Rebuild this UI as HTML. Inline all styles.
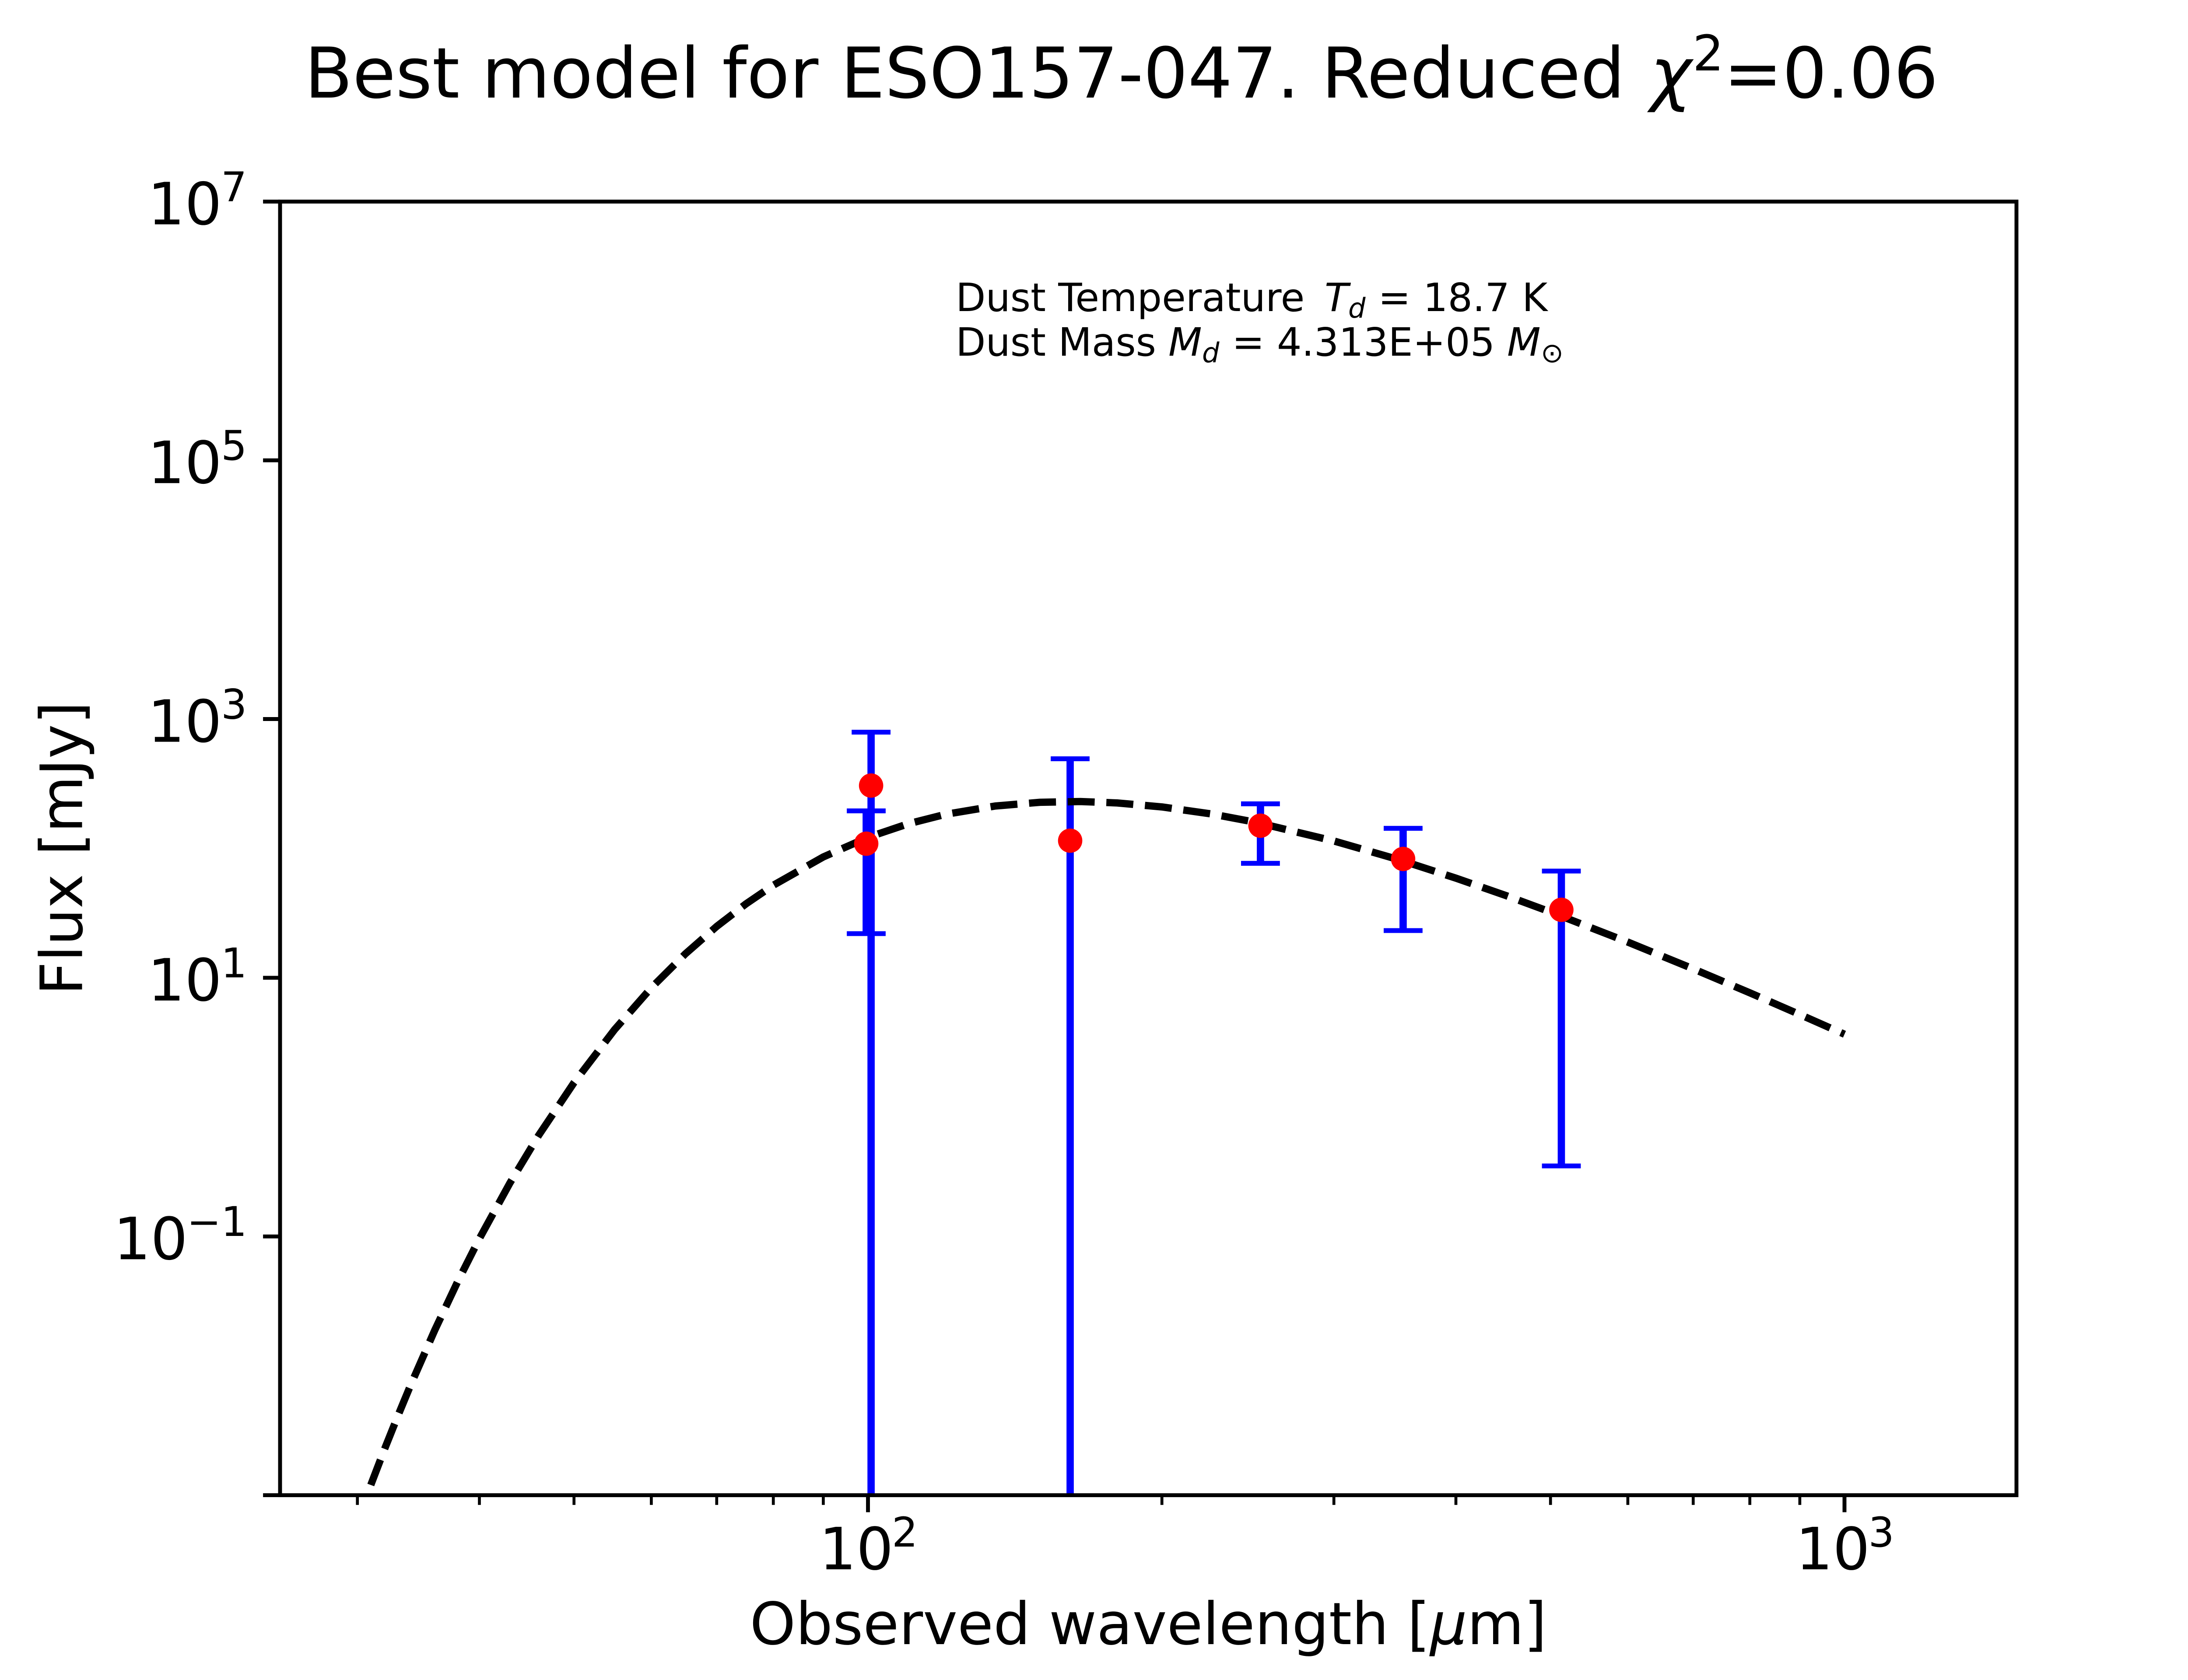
<!DOCTYPE html>
<html>
<head>
<meta charset="utf-8">
<style>
html,body{margin:0;padding:0;background:#fff;}
svg{display:block;}
text{font-family:"DejaVu Sans","Liberation Sans",sans-serif;fill:#000;}
</style>
</head>
<body>
<svg xmlns="http://www.w3.org/2000/svg" width="5120" height="3840" viewBox="0 0 5120 3840">
<rect x="0" y="0" width="5120" height="3840" fill="#ffffff"/>
<defs>
<clipPath id="ax"><rect x="640" y="460.8" width="3968" height="2956.8"/></clipPath>
</defs>

<!-- Title -->
<text x="696" y="223" font-size="160">Best model for ESO157-047. Reduced</text>
<text x="3771" y="223" font-size="160" font-style="italic">χ</text>
<text x="3868" y="161" font-size="112">2</text>
<text x="3939" y="223" font-size="160">=0.06</text>

<!-- Data -->
<g clip-path="url(#ax)">
  <!-- error bars -->
  <g stroke="#0000ff" stroke-width="16.67" fill="none">
    <line x1="1990.6" y1="1673.5" x2="1990.6" y2="3500"/>
    <line x1="1979.5" y1="1853.4" x2="1979.5" y2="2134"/>
    <line x1="2445.5" y1="1734.3" x2="2445.5" y2="3500"/>
    <line x1="2880.4" y1="1837.3" x2="2880.4" y2="1973.3"/>
    <line x1="3206.4" y1="1893.3" x2="3206.4" y2="2127"/>
    <line x1="3568" y1="1991" x2="3568" y2="2665"/>
  </g>
  <g stroke="#0000ff" stroke-width="11.1" fill="none">
    <line x1="1946.2" y1="1673.5" x2="2035" y2="1673.5"/>
    <line x1="1935.1" y1="1853.4" x2="2023.9" y2="1853.4"/>
    <line x1="1935.1" y1="2134" x2="2023.9" y2="2134"/>
    <line x1="2401.1" y1="1734.3" x2="2489.9" y2="1734.3"/>
    <line x1="2836" y1="1837.3" x2="2924.8" y2="1837.3"/>
    <line x1="2836" y1="1973.3" x2="2924.8" y2="1973.3"/>
    <line x1="3162" y1="1893.3" x2="3250.8" y2="1893.3"/>
    <line x1="3162" y1="2127" x2="3250.8" y2="2127"/>
    <line x1="3523.6" y1="1991" x2="3612.4" y2="1991"/>
    <line x1="3523.6" y1="2665" x2="3612.4" y2="2665"/>
  </g>
  <!-- model curve -->
  <polyline fill="none" stroke="#000" stroke-width="16.67" stroke-dasharray="61.7 26.7" stroke-linecap="butt" stroke-linejoin="round"
    points="816.7,3477.2 848.5,3391.1 879.2,3311.1 909.1,3236.5 938.0,3166.8 993.4,3040.6 1045.8,2929.5 1095.5,2831.1 1165.6,2703.4 1230.9,2595.1 1311.7,2474.7 1404.1,2353.8 1488.4,2257.7 1566.0,2180.4 1637.8,2117.5 1704.7,2066.0 1767.2,2023.4 1881.4,1958.7 1983.5,1913.9 2075.9,1882.8 2160.2,1861.4 2274.3,1842.3 2376.4,1833.8 2468.8,1832.1 2553.1,1835.3 2655.2,1844.4 2769.4,1860.6 2871.5,1879.9 3048.2,1922.2 3197.6,1965.3 3327.0,2007.2 3441.1,2046.9 3543.2,2084.5 3719.9,2153.3 3869.3,2214.5 3998.7,2269.3 4112.9,2318.9 4215.0,2364.0"/>
  <!-- markers -->
  <g fill="#ff0000">
    <circle cx="1990.6" cy="1795.6" r="27.8"/>
    <circle cx="1979.5" cy="1928.4" r="27.8"/>
    <circle cx="2445.5" cy="1921.5" r="27.8"/>
    <circle cx="2880.4" cy="1887.3" r="27.8"/>
    <circle cx="3206.4" cy="1963.3" r="27.8"/>
    <circle cx="3568" cy="2079.6" r="27.8"/>
  </g>
</g>

<!-- Annotation -->
<text x="2184" y="711" font-size="88.9">Dust Temperature </text>
<text x="3027" y="711" font-size="88.9" font-style="italic">T</text>
<text x="3081" y="726" font-size="62.2" font-style="italic">d</text>
<text x="3121" y="711" font-size="88.9" xml:space="preserve"> = 18.7 K</text>

<text x="2184" y="813" font-size="88.9">Dust Mass </text>
<text x="2670" y="813" font-size="88.9" font-style="italic">M</text>
<text x="2747" y="828" font-size="62.2" font-style="italic">d</text>
<text x="2787" y="813" font-size="88.9" xml:space="preserve"> = 4.313E+05 </text>
<text x="3444" y="813" font-size="88.9" font-style="italic">M</text>
<text x="3521" y="828" font-size="62.2">⊙</text>

<!-- Spines -->
<rect x="640" y="460.8" width="3968" height="2956.8" fill="none" stroke="#000" stroke-width="8.9" stroke-linejoin="miter"/>

<!-- X ticks -->
<g stroke="#000" stroke-width="8.9">
  <line x1="1983.5" y1="3417.6" x2="1983.5" y2="3456.5"/>
  <line x1="4215" y1="3417.6" x2="4215" y2="3456.5"/>
</g>
<g stroke="#000" stroke-width="6.7">
  <line x1="816.7" y1="3417.6" x2="816.7" y2="3439.8"/>
  <line x1="1095.5" y1="3417.6" x2="1095.5" y2="3439.8"/>
  <line x1="1311.7" y1="3417.6" x2="1311.7" y2="3439.8"/>
  <line x1="1488.4" y1="3417.6" x2="1488.4" y2="3439.8"/>
  <line x1="1637.8" y1="3417.6" x2="1637.8" y2="3439.8"/>
  <line x1="1767.2" y1="3417.6" x2="1767.2" y2="3439.8"/>
  <line x1="1881.4" y1="3417.6" x2="1881.4" y2="3439.8"/>
  <line x1="2655.2" y1="3417.6" x2="2655.2" y2="3439.8"/>
  <line x1="3048.2" y1="3417.6" x2="3048.2" y2="3439.8"/>
  <line x1="3327.0" y1="3417.6" x2="3327.0" y2="3439.8"/>
  <line x1="3543.2" y1="3417.6" x2="3543.2" y2="3439.8"/>
  <line x1="3719.9" y1="3417.6" x2="3719.9" y2="3439.8"/>
  <line x1="3869.3" y1="3417.6" x2="3869.3" y2="3439.8"/>
  <line x1="3998.7" y1="3417.6" x2="3998.7" y2="3439.8"/>
  <line x1="4112.9" y1="3417.6" x2="4112.9" y2="3439.8"/>
</g>
<text x="1872" y="3587" font-size="133.3">10</text>
<text x="2038" y="3535" font-size="93.3">2</text>
<text x="4103.5" y="3587" font-size="133.3">10</text>
<text x="4269.5" y="3535" font-size="93.3">3</text>

<!-- Y ticks -->
<g stroke="#000" stroke-width="8.9">
  <line x1="601.1" y1="460.8" x2="640" y2="460.8"/>
  <line x1="601.1" y1="1052.2" x2="640" y2="1052.2"/>
  <line x1="601.1" y1="1643.5" x2="640" y2="1643.5"/>
  <line x1="601.1" y1="2234.9" x2="640" y2="2234.9"/>
  <line x1="601.1" y1="2826.2" x2="640" y2="2826.2"/>
  <line x1="601.1" y1="3417.6" x2="640" y2="3417.6"/>
</g>
<text x="507" y="512.8" font-size="133.3" text-anchor="end">10</text>
<text x="505" y="459.8" font-size="93.3">7</text>
<text x="507" y="1104.2" font-size="133.3" text-anchor="end">10</text>
<text x="505" y="1051.2" font-size="93.3">5</text>
<text x="507" y="1695.5" font-size="133.3" text-anchor="end">10</text>
<text x="505" y="1642.5" font-size="93.3">3</text>
<text x="507" y="2286.9" font-size="133.3" text-anchor="end">10</text>
<text x="505" y="2233.9" font-size="93.3">1</text>
<text x="429" y="2878.2" font-size="133.3" text-anchor="end">10</text>
<text x="427" y="2825.2" font-size="93.3">−1</text>

<!-- Axis labels -->
<text x="2624" y="3758" font-size="133.3" text-anchor="middle">Observed wavelength [<tspan font-style="italic">μ</tspan>m]</text>
<text transform="translate(187.5,1939) rotate(-90)" font-size="133.3" text-anchor="middle">Flux [mJy]</text>
</svg>
</body>
</html>
